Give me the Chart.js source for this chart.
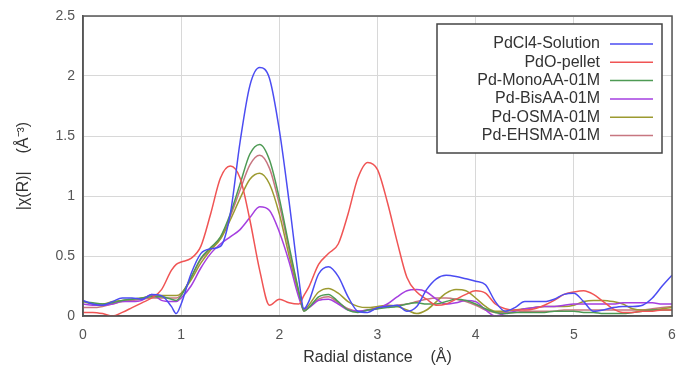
<!DOCTYPE html>
<html>
<head>
<meta charset="utf-8">
<script src="https://cdn.jsdelivr.net/npm/chart.js@4/dist/chart.umd.min.js"></script>
<style>
  html, body { margin: 0; padding: 0; background: #fff; }
  #wrap { width: 677px; height: 371px; }
</style>
</head>
<body>
<div id="wrap"><canvas id="myChart"></canvas></div>
<script>
// radial distance grid (Å)
const R = [0, 0.1, 0.2, 0.3, 0.4, 0.5, 0.6, 0.7, 0.8, 0.9, 0.95, 1.0, 1.1, 1.2, 1.3, 1.4, 1.5, 1.6, 1.7, 1.8, 1.9, 2.0, 2.1, 2.2, 2.25, 2.3,
  2.4, 2.5, 2.6, 2.7, 2.8, 2.9, 3.0, 3.1, 3.2, 3.3, 3.4, 3.5, 3.6, 3.7, 3.8, 3.9, 4.0, 4.1, 4.2, 4.3, 4.4, 4.5, 4.6, 4.7, 4.8, 4.9,
  5.0, 5.1, 5.2, 5.3, 5.4, 5.5, 5.6, 5.7, 5.8, 5.9, 6.0];

const pdcl4 = [0.13, 0.10, 0.09, 0.12, 0.15, 0.15, 0.14, 0.18, 0.17, 0.08, 0.02, 0.10, 0.35, 0.52, 0.56, 0.58, 0.85, 1.45, 1.92, 2.07, 1.98, 1.55, 0.95, 0.30, 0.06, 0.12,
  0.35, 0.41, 0.33, 0.16, 0.04, 0.03, 0.07, 0.08, 0.09, 0.04, 0.08, 0.22, 0.31, 0.34, 0.33, 0.31, 0.29, 0.26, 0.12, 0.04, 0.07, 0.12, 0.12, 0.12, 0.14, 0.18,
  0.19, 0.12, 0.04, 0.05, 0.07, 0.08, 0.08, 0.09, 0.15, 0.25, 0.34];
const pdo = [0.03, 0.03, 0.02, 0.00, 0.03, 0.07, 0.11, 0.15, 0.22, 0.38, 0.43, 0.45, 0.48, 0.58, 0.85, 1.15, 1.25, 1.15, 0.80, 0.38, 0.09, 0.14, 0.11, 0.10, 0.17, 0.24,
  0.43, 0.52, 0.60, 0.85, 1.15, 1.28, 1.22, 0.95, 0.62, 0.32, 0.20, 0.14, 0.09, 0.10, 0.14, 0.18, 0.21, 0.19, 0.10, 0.06, 0.05, 0.05, 0.06, 0.09, 0.13, 0.18,
  0.20, 0.21, 0.18, 0.12, 0.06, 0.03, 0.03, 0.04, 0.04, 0.05, 0.05];
const monoAA = [0.12, 0.11, 0.10, 0.11, 0.13, 0.14, 0.15, 0.16, 0.16, 0.14, 0.13, 0.17, 0.32, 0.48, 0.57, 0.66, 0.85, 1.10, 1.35, 1.43, 1.30, 0.98, 0.58, 0.20, 0.04, 0.07,
  0.16, 0.18, 0.12, 0.05, 0.03, 0.05, 0.06, 0.07, 0.08, 0.10, 0.11, 0.10, 0.10, 0.12, 0.14, 0.13, 0.10, 0.06, 0.03, 0.02, 0.03, 0.03, 0.03, 0.03, 0.04, 0.04,
  0.04, 0.03, 0.03, 0.02, 0.02, 0.02, 0.03, 0.04, 0.05, 0.05, 0.05];
const bisAA = [0.10, 0.09, 0.09, 0.10, 0.12, 0.12, 0.13, 0.18, 0.13, 0.12, 0.12, 0.15, 0.25, 0.40, 0.52, 0.60, 0.66, 0.72, 0.82, 0.91, 0.88, 0.70, 0.45, 0.15, 0.06, 0.07,
  0.13, 0.14, 0.10, 0.05, 0.04, 0.05, 0.06, 0.10, 0.16, 0.21, 0.22, 0.20, 0.14, 0.10, 0.11, 0.13, 0.12, 0.05, 0.00, 0.02, 0.04, 0.06, 0.07, 0.08, 0.08, 0.09,
  0.10, 0.10, 0.10, 0.10, 0.10, 0.11, 0.11, 0.11, 0.11, 0.10, 0.10];
const osma = [0.12, 0.10, 0.10, 0.12, 0.13, 0.14, 0.15, 0.17, 0.17, 0.17, 0.17, 0.19, 0.30, 0.44, 0.55, 0.64, 0.80, 0.98, 1.14, 1.19, 1.10, 0.85, 0.50, 0.18, 0.05, 0.09,
  0.20, 0.23, 0.19, 0.12, 0.08, 0.07, 0.08, 0.09, 0.08, 0.05, 0.02, 0.05, 0.12, 0.19, 0.22, 0.21, 0.15, 0.08, 0.04, 0.04, 0.05, 0.06, 0.07, 0.08, 0.08, 0.08,
  0.09, 0.12, 0.13, 0.13, 0.12, 0.10, 0.06, 0.05, 0.05, 0.06, 0.07];
const ehsma = [0.07, 0.07, 0.08, 0.10, 0.12, 0.13, 0.14, 0.15, 0.15, 0.15, 0.15, 0.18, 0.32, 0.47, 0.56, 0.65, 0.83, 1.05, 1.26, 1.34, 1.23, 0.93, 0.55, 0.19, 0.04, 0.07,
  0.14, 0.16, 0.11, 0.06, 0.04, 0.05, 0.07, 0.08, 0.09, 0.10, 0.12, 0.14, 0.15, 0.15, 0.14, 0.12, 0.09, 0.05, 0.03, 0.03, 0.03, 0.04, 0.04, 0.04, 0.04, 0.05,
  0.05, 0.05, 0.05, 0.05, 0.05, 0.05, 0.05, 0.05, 0.06, 0.07, 0.08];

const names = ['PdCl4-Solution', 'PdO-pellet', 'Pd-MonoAA-01M', 'Pd-BisAA-01M', 'Pd-OSMA-01M', 'Pd-EHSMA-01M'];
const series = [pdcl4, pdo, monoAA, bisAA, osma, ehsma];
const colors = ['#4b4cf2', '#f05454', '#4e9a54', '#a53fe0', '#9c9a30', '#c77680'];

const xTicks = [0, 1, 2, 3, 4, 5, 6];
const yTicks = [0, 0.5, 1, 1.5, 2, 2.5];

const FONT = 'Liberation Sans, Arial, sans-serif';

function toPoints(ys) {
    return ys.map((y, i) => ({ x: R[i], y: y }));
}

// frame around the plot + legend box drawn gnuplot style
const boxLegend = {
    id: 'boxLegend',
    afterDraw(chart) {
        const ctx = chart.ctx;
        const a = chart.chartArea;
        ctx.save();
        ctx.strokeStyle = '#555';
        ctx.lineWidth = 1.5;
        ctx.strokeRect(a.left, a.top, a.right - a.left, a.bottom - a.top);

        const left = 437, top = 24, right = 662, bottom = 153;
        ctx.fillStyle = '#fff';
        ctx.fillRect(left, top, right - left, bottom - top);
        ctx.strokeStyle = '#444';
        ctx.strokeRect(left, top, right - left, bottom - top);
        ctx.font = '16px ' + FONT;
        ctx.textAlign = 'right';
        ctx.textBaseline = 'middle';
        chart.data.datasets.forEach((ds, i) => {
            const y = 44 + i * 18.3;
            ctx.fillStyle = '#333';
            ctx.fillText(ds.label, 600, y);
            ctx.strokeStyle = ds.borderColor;
            ctx.lineWidth = 1.5;
            ctx.beginPath();
            ctx.moveTo(610, y);
            ctx.lineTo(653, y);
            ctx.stroke();
        });
        ctx.restore();
    }
};

const ctx = document.getElementById('myChart');
new Chart(ctx, {
    type: 'line',
    data: {
        datasets: names.map((n, i) => ({
            label: n,
            data: toPoints(series[i]),
            borderColor: colors[i],
            borderWidth: 1.5,
            pointRadius: 0,
            tension: 0.4,
            cubicInterpolationMode: 'monotone',
            fill: false,
        }))
    },
    options: {
        responsive: true,
        maintainAspectRatio: false,
        animation: false,
        layout: { padding: { left: 0, top: 16, right: 0, bottom: 0 } },
        scales: {
            x: {
                type: 'linear',
                min: 0,
                max: 6,
                afterBuildTicks: (s) => { s.ticks = xTicks.map(v => ({ value: v })); },
                afterFit: (s) => { s.height = 55; s.paddingLeft = 0; s.paddingRight = 5; },
                grid: { color: '#d8d8d8', lineWidth: 1, drawTicks: false },
                border: { color: '#555', width: 1.5 },
                ticks: { padding: 11, color: '#555', font: { family: FONT, size: 14 }, callback: (v) => String(v) },
                title: {
                    display: true,
                    text: 'Radial distance    (Å)',
                    color: '#333',
                    font: { family: FONT, size: 16 },
                    padding: { top: 3 }
                }
            },
            y: {
                min: 0,
                max: 2.5,
                afterBuildTicks: (s) => { s.ticks = yTicks.map(v => ({ value: v })); },
                afterFit: (s) => { s.width = 83; s.paddingTop = 0; s.paddingBottom = 0; },
                grid: { color: '#d8d8d8', lineWidth: 1, drawTicks: false },
                border: { color: '#555', width: 1.5 },
                ticks: { padding: 8, color: '#555', font: { family: FONT, size: 14 }, callback: (v) => String(v) },
                title: {
                    display: true,
                    text: '|χ(R)|    (Å⁻³)',
                    color: '#333',
                    font: { family: FONT, size: 16 },
                    padding: { top: 14, bottom: 0 }
                }
            }
        },
        plugins: {
            legend: { display: false },
            tooltip: { enabled: false }
        }
    },
    plugins: [boxLegend]
});
</script>
</body>
</html>
